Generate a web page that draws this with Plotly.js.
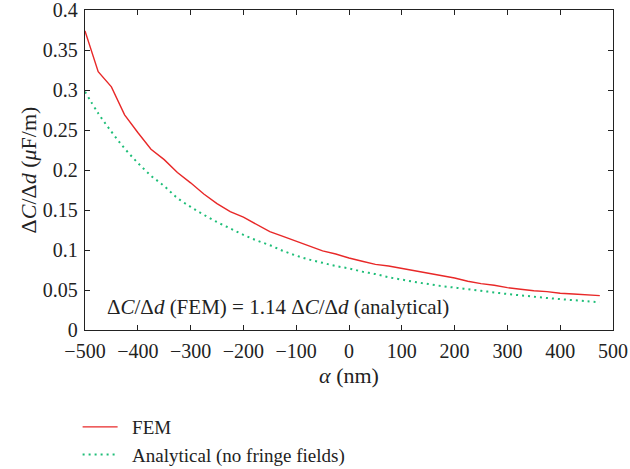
<!DOCTYPE html>
<html>
<head>
<meta charset="utf-8">
<script src="https://cdn.plot.ly/plotly-3.0.1.min.js"></script>
<style>
html,body{margin:0;padding:0;background:#fff;}
#chart{width:630px;height:469px;}
</style>
</head>
<body>
<div id="chart"></div>
<script>
// alpha (nm)
const alphaFEM = [-500,-475,-450,-425,-400,-375,-350,-325,-300,-275,-250,-225,-200,-175,-150,-125,-100,-75,-50,-25,0,25,50,75,100,125,150,175,200,225,250,275,300,325,350,375,400,425,450,475];
const fem = [0.374,0.323,0.304,0.269,0.247,0.226,0.213,0.197,0.184,0.170,0.158,0.148,0.141,0.132,0.123,0.117,0.111,0.105,0.099,0.095,0.090,0.086,0.082,0.080,0.077,0.074,0.071,0.068,0.065,0.061,0.058,0.056,0.053,0.051,0.049,0.048,0.046,0.045,0.044,0.043];
const alphaAna = alphaFEM;
const analytical = [0.298,0.271,0.248,0.227,0.209,0.193,0.180,0.165,0.154,0.144,0.135,0.127,0.119,0.112,0.106,0.099,0.093,0.088,0.084,0.080,0.077,0.073,0.070,0.066,0.063,0.060,0.0575,0.055,0.053,0.051,0.049,0.047,0.045,0.0433,0.0417,0.0400,0.0386,0.0373,0.0360,0.0346];
const xTicks = [-500,-400,-300,-200,-100,0,100,200,300,400,500];
const yTicks = [0,0.05,0.1,0.15,0.2,0.25,0.3,0.35,0.4];
const yTickText = ['0','0.05','0.1','0.15','0.2','0.25','0.3','0.35','0.4'];

const FONT = 'Liberation Serif, Times New Roman, serif';
const FS = 20;

const traces = [
  {x: alphaFEM, y: fem, type: 'scatter', mode: 'lines', name: '\u00a0\u00a0FEM',
   legendgroup: 'a',
   line: {color: 'rgb(232,40,40)', width: 1.4}},
  {x: alphaAna, y: analytical, type: 'scatter', mode: 'lines', name: '\u00a0\u00a0Analytical (no fringe fields)',
   legendgroup: 'b',
   line: {color: 'rgb(30,190,120)', width: 2, dash: '2px,4px', shape: 'spline'}}
];

const axisCommon = {
  showline: true, linecolor: '#222', linewidth: 1.2, mirror: 'ticks',
  ticks: 'inside', ticklen: 5, tickcolor: '#222', tickwidth: 1,
  showgrid: false, zeroline: false, ticklabeloverflow: 'allow',
  tickfont: {family: FONT, size: FS, color: '#222'}
};

const layout = {
  width: 630, height: 469,
  margin: {l: 85, r: 17, t: 10, b: 139, autoexpand: false},
  paper_bgcolor: '#fff', plot_bgcolor: '#fff',
  font: {family: FONT, size: FS, color: '#222'},
  xaxis: Object.assign({}, axisCommon, {
    range: [-500, 500], tickvals: xTicks, ticklabelstandoff: 3,
    title: {text: '<i>α</i> (nm)', font: {family: FONT, size: 22, color: '#222'}, standoff: 6}
  }),
  yaxis: Object.assign({}, axisCommon, {
    range: [0, 0.4001], tickvals: yTicks, ticktext: yTickText, ticklabelstandoff: 2,
    title: {text: 'Δ<i>C</i>/Δ<i>d</i> (<i>μ</i>F/m)', font: {family: FONT, size: 22, color: '#222'}, standoff: 0}
  }),
  showlegend: true,
  legend: {
    x: -0.014, xanchor: 'left', yref: 'container', y: 0.13, yanchor: 'top',
    font: {family: FONT, size: 19, color: '#222'},
    tracegroupgap: 0, itemwidth: 35,
    bgcolor: 'rgba(0,0,0,0)'
  },
  annotations: [{
    xref: 'paper', yref: 'paper', x: 0.366, y: 0.071,
    xanchor: 'center', yanchor: 'middle', showarrow: false,
    text: 'Δ<i>C</i>/Δ<i>d</i> (FEM) = 1.14 Δ<i>C</i>/Δ<i>d</i> (analytical)',
    font: {family: FONT, size: 21, color: '#222'}
  }]
};

Plotly.newPlot('chart', traces, layout, {staticPlot: true, displayModeBar: false});
</script>
</body>
</html>
